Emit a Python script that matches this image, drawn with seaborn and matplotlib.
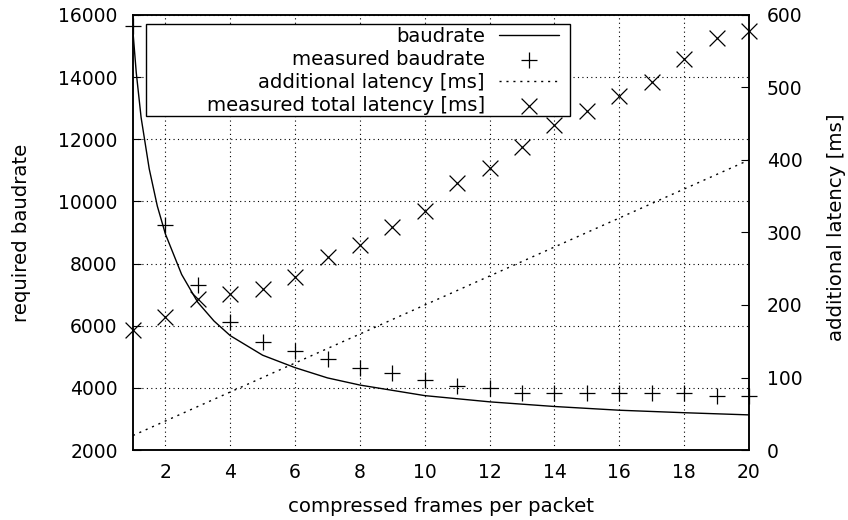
import matplotlib
matplotlib.use("Agg")
import matplotlib.pyplot as plt
from matplotlib.patches import Rectangle
import seaborn as sns
import numpy as np

# ---- data ----
frames = list(range(1, 21))
measured_baud = [15650, 9240, 7310, 6130, 5490, 5190, 4920, 4650, 4490, 4250,
                 4070, 3990, 3830, 3830, 3830, 3830, 3830, 3830, 3750, 3740]
measured_latency = [165, 183, 208, 215, 222, 238, 266, 283, 308, 330,
                    368, 389, 418, 448, 467, 488, 507, 539, 568, 578]
curve_x = [1, 1.1, 1.25, 1.5, 1.75, 2, 2.5, 3, 3.5, 4, 5, 6, 7, 8, 10, 12, 14, 16, 18, 20]
curve_baud = [15450, 14150, 12700, 11050, 9850, 8950, 7650, 6750, 6150, 5680,
              5050, 4650, 4320, 4090, 3750, 3550, 3400, 3280, 3200, 3130]
latency_x = [1, 20]
latency_ms = [20, 400]

x_ticks = list(range(2, 21, 2))
left_ticks = list(range(2000, 16001, 2000))
right_ticks = list(range(0, 601, 100))

labels = ["baudrate", "measured baudrate", "additional latency [ms]",
          "measured total latency [ms]"]

sns.set_theme(style="white")
plt.rcParams["font.family"] = ["DejaVu Sans"]
plt.rcParams["font.size"] = 13.5
FS = 13.5      # tick labels
LFS = 14.2     # axis labels
GFS = 14.1     # legend

fig = plt.figure(figsize=(8.48, 5.2), dpi=100)
ax = fig.add_axes([133 / 848, 1 - 450 / 520, 616 / 848, 435 / 520])
ax2 = ax.twinx()

sns.lineplot(x=curve_x, y=curve_baud, ax=ax, color="black", lw=1.0,
             label=labels[0], legend=False, sort=False)
sns.scatterplot(x=frames, y=measured_baud, ax=ax, marker="+", s=130,
                color="black", linewidth=0.9, label=labels[1], legend=False,
                clip_on=False, zorder=3)
sns.lineplot(x=latency_x, y=latency_ms, ax=ax2, color="black", lw=1.0,
             linestyle=(0, (1.5, 3.5)), label=labels[2], legend=False)
sns.scatterplot(x=frames, y=measured_latency, ax=ax2, marker="x", s=130,
                color="black", linewidth=0.9, label=labels[3], legend=False,
                clip_on=False, zorder=3)

ax.set_xlim(1, 20)
ax.set_ylim(2000, 16000)
ax2.set_ylim(0, 600)
ax.set_xticks(x_ticks)
ax.set_yticks(left_ticks)
ax2.set_yticks(right_ticks)

ax.grid(True, color="black", linestyle=(0, (1, 3)), linewidth=0.8)
ax2.grid(False)

for a in (ax, ax2):
    for s in a.spines.values():
        s.set_color("black")
        s.set_linewidth(1.1)
ax.tick_params(axis="x", direction="in", length=6, width=0.8, color="black",
               labelsize=FS, pad=9, top=False, labelcolor="black")
ax.tick_params(axis="y", direction="in", length=6, width=0.8, color="black",
               labelsize=FS, pad=11, right=False, labelcolor="black")
ax2.tick_params(axis="y", direction="in", length=6, width=0.8, color="black",
                labelsize=FS, pad=13, left=False, labelcolor="black")

ax.set_xlabel("compressed frames per packet", fontsize=LFS, color="black")
ax.set_ylabel("required baudrate", fontsize=LFS, color="black")
ax2.set_ylabel("additional latency [ms]", fontsize=LFS, color="black")
ax.xaxis.set_label_coords(0.5, (450 - 506) / 435)
ax.xaxis.label.set_va("center")
ax.yaxis.set_label_coords((21 - 133) / 616, 0.5)
ax.yaxis.label.set_va("center")
ax.yaxis.label.set_ha("center")
ax2.yaxis.set_label_coords((837 - 133) / 616, (450 - 227.5) / 435)
ax2.yaxis.label.set_va("center")
ax2.yaxis.label.set_ha("center")

# legend frame (gnuplot-style box) and right-aligned legend entries
box_l, box_r = (145.7 - 133) / 616, (570 - 133) / 616
box_t, box_b = 1 - (24.3 - 15) / 435, 1 - (116 - 15) / 435
ax2.add_patch(Rectangle((box_l, box_b), box_r - box_l, box_t - box_b,
                        transform=ax2.transAxes, facecolor="white",
                        edgecolor="black", linewidth=1.0, zorder=4.9,
                        clip_on=False))
h1, l1 = ax.get_legend_handles_labels()
h2, l2 = ax2.get_legend_handles_labels()
anchor_x = (565 - 133) / 616
anchor_y = 1 - (20.5 - 15) / 435
leg = ax2.legend(h1 + h2, l1 + l2, loc="upper right",
                 bbox_to_anchor=(anchor_x, anchor_y), bbox_transform=ax2.transAxes,
                 borderaxespad=0, borderpad=0.33, frameon=False,
                 markerfirst=False, handlelength=3.06, handletextpad=0.71,
                 labelspacing=0.21, fontsize=GFS, scatterpoints=1)
leg.set_zorder(5)
for t in leg.get_texts():
    t.set_color("black")

fig.savefig("out.png", dpi=100)
